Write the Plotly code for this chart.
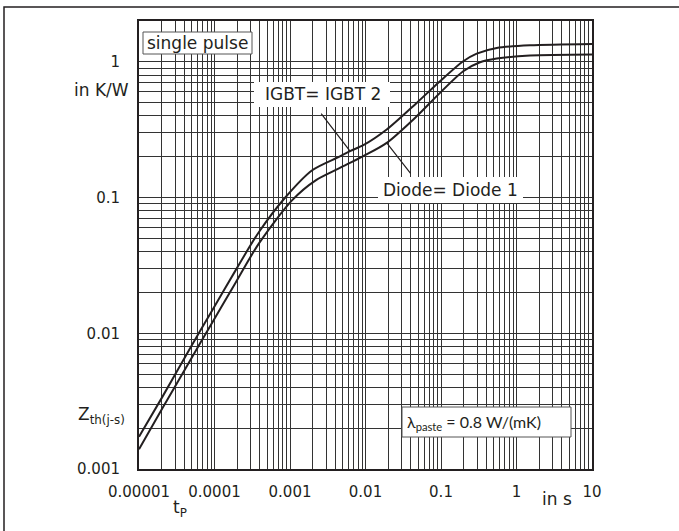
import numpy as np
import plotly.graph_objects as go

# ---- data ----
t_igbt = [1e-5, 2.04e-5, 4.59e-5, 9.35e-5, 1.91e-4, 3.88e-4, 8.77e-4, 1.97e-3, 4.45e-3,
          6.24e-3, 9.35e-3, 0.0191, 0.0476, 0.097, 0.197, 0.297, 0.547, 1.51, 10]
z_igbt = [0.00173, 0.0034, 0.00751, 0.0148, 0.0292, 0.0558, 0.101, 0.159, 0.1995,
          0.22, 0.243, 0.317, 0.498, 0.72, 1.01, 1.15, 1.265, 1.325, 1.355]

t_diode = [1e-5, 2.04e-5, 4.59e-5, 9.35e-5, 1.91e-4, 3.88e-4, 1.07e-3, 2.19e-3, 4.45e-3,
           9.35e-3, 0.0191, 0.0476, 0.0877, 0.197, 0.329, 0.547, 1.51, 10]
z_diode = [0.0014, 0.0028, 0.0061, 0.0120, 0.0237, 0.046, 0.0958, 0.134, 0.164,
           0.202, 0.253, 0.397, 0.559, 0.853, 0.993, 1.057, 1.112, 1.132]

x_major = [1e-5, 1e-4, 1e-3, 1e-2, 1e-1, 1, 10]
x_labels = ["0.00001", "0.0001", "0.001", "0.01", "0.1", "1", "10"]
y_major = [0.001, 0.01, 0.1, 1]
y_labels = ["0.001", "0.01", "0.1", "1"]

igbt_label = "IGBT= IGBT 2"
diode_label = "Diode= Diode 1"
igbt_ptr_idx = 9     # point on IGBT curve where the pointer ends
diode_ptr_idx = 10   # point on Diode curve where the pointer ends


def minor_grid(dmin, dmax):
    vals = []
    for d in range(dmin, dmax):
        for k in range(2, 10):
            vals.append(k * 10.0 ** d)
    return vals


xminor = minor_grid(-5, 1)
yminor = minor_grid(-3, 0)

INK = "#231f20"
GRID = "#333333"
FONT = "DejaVu Sans"

fig = go.Figure()
fig.add_trace(go.Scatter(x=t_igbt, y=z_igbt, mode="lines",
                         line=dict(color=INK, width=2, shape="spline", smoothing=0.8),
                         showlegend=False, hoverinfo="skip"))
fig.add_trace(go.Scatter(x=t_diode, y=z_diode, mode="lines",
                         line=dict(color=INK, width=2, shape="spline", smoothing=0.8),
                         showlegend=False, hoverinfo="skip"))

# plot area: x 139..592, y 21..469 px in a 679x531 canvas
L, R, T, B = 139, 87, 21, 62
W, H = 679 - L - R, 531 - T - B


def px(xp):
    return (xp - L) / W


def py(yp):
    return (531 - B - yp) / H


grid_minor = dict(tickmode="array", showgrid=True, gridcolor=GRID, gridwidth=1, ticks="")

fig.update_layout(
    width=679, height=531,
    margin=dict(l=L, r=R, t=T, b=B),
    paper_bgcolor="white", plot_bgcolor="white",
    font=dict(family=FONT, color=INK, size=15),
    xaxis=dict(type="log", range=[-5, 1], tickmode="array", tickvals=x_major, ticktext=x_labels,
               showgrid=True, gridcolor=GRID, gridwidth=1, zeroline=False,
               showline=True, linecolor=INK, linewidth=2, mirror=True,
               ticks="", ticklabelstandoff=8, tickfont=dict(size=15),
               minor=dict(grid_minor, tickvals=xminor)),
    yaxis=dict(type="log", range=[-3, np.log10(2)], tickmode="array", tickvals=y_major, ticktext=y_labels,
               showgrid=True, gridcolor=GRID, gridwidth=1, zeroline=False,
               showline=True, linecolor=INK, linewidth=2, mirror=True,
               ticks="", ticklabelstandoff=14, tickfont=dict(size=15),
               minor=dict(grid_minor, tickvals=yminor)),
)

shapes = []
# outer frame (top and left edges visible)
shapes.append(dict(type="rect", xref="paper", yref="paper",
                   x0=px(4), x1=px(700), y0=py(560), y1=py(7),
                   line=dict(color=INK, width=1.5), fillcolor="rgba(0,0,0,0)", layer="above"))
# single pulse box
shapes.append(dict(type="rect", xref="paper", yref="paper",
                   x0=px(143), x1=px(252), y0=py(54), y1=py(32),
                   line=dict(color="#555555", width=1), fillcolor="white", layer="above"))
# label backgrounds
shapes.append(dict(type="rect", xref="paper", yref="paper",
                   x0=px(254), x1=px(390), y0=py(107), y1=py(82),
                   line=dict(width=0), fillcolor="white", layer="above"))
shapes.append(dict(type="rect", xref="paper", yref="paper",
                   x0=px(378), x1=px(523), y0=py(203), y1=py(177),
                   line=dict(width=0), fillcolor="white", layer="above"))
# lambda box
shapes.append(dict(type="rect", xref="paper", yref="paper",
                   x0=px(402), x1=px(571), y0=py(437), y1=py(407),
                   line=dict(color="#555555", width=1), fillcolor="white", layer="above"))
fig.update_layout(shapes=shapes)

ann = []
ann.append(dict(text="single pulse", xref="paper", yref="paper", x=px(197.5), y=py(43),
                showarrow=False, font=dict(size=17), xanchor="center", yanchor="middle"))
ann.append(dict(text="in K/W", xref="paper", yref="paper", x=px(131), y=py(90),
                showarrow=False, font=dict(size=17), xanchor="right", yanchor="middle"))
ann.append(dict(text="Z<sub>th(j-s)</sub>", xref="paper", yref="paper", x=px(127), y=py(415),
                showarrow=False, font=dict(size=17), xanchor="right", yanchor="middle"))
ann.append(dict(text="t<sub>P</sub>", xref="paper", yref="paper", x=px(180), y=py(509),
                showarrow=False, font=dict(size=17), xanchor="center", yanchor="middle"))
ann.append(dict(text="in s", xref="paper", yref="paper", x=px(557), y=py(499),
                showarrow=False, font=dict(size=17), xanchor="center", yanchor="middle"))
ann.append(dict(text=igbt_label, xref="paper", yref="paper", x=px(323), y=py(94),
                showarrow=False, font=dict(size=17), xanchor="center", yanchor="middle"))
ann.append(dict(text=diode_label, xref="paper", yref="paper", x=px(450), y=py(190),
                showarrow=False, font=dict(size=17), xanchor="center", yanchor="middle"))
ann.append(dict(text="λ<sub>paste</sub> = 0.8 W/(mK)", xref="paper", yref="paper",
                x=px(405), y=py(422), showarrow=False, font=dict(size=16, family="Lato"),
                xanchor="left", yanchor="middle"))
# pointer lines from labels to the curves
ann.append(dict(text="", x=np.log10(t_igbt[igbt_ptr_idx]), y=np.log10(z_igbt[igbt_ptr_idx]),
                xref="x", yref="y", showarrow=True, arrowhead=0, arrowwidth=1.2,
                arrowcolor=INK, ax=-30, ay=-39, standoff=0, startstandoff=0))
ann.append(dict(text="", x=np.log10(t_diode[diode_ptr_idx]), y=np.log10(z_diode[diode_ptr_idx]),
                xref="x", yref="y", showarrow=True, arrowhead=0, arrowwidth=1.2,
                arrowcolor=INK, ax=25, ay=32, standoff=0, startstandoff=0))
fig.update_layout(annotations=ann)

fig.write_html("out.html")
